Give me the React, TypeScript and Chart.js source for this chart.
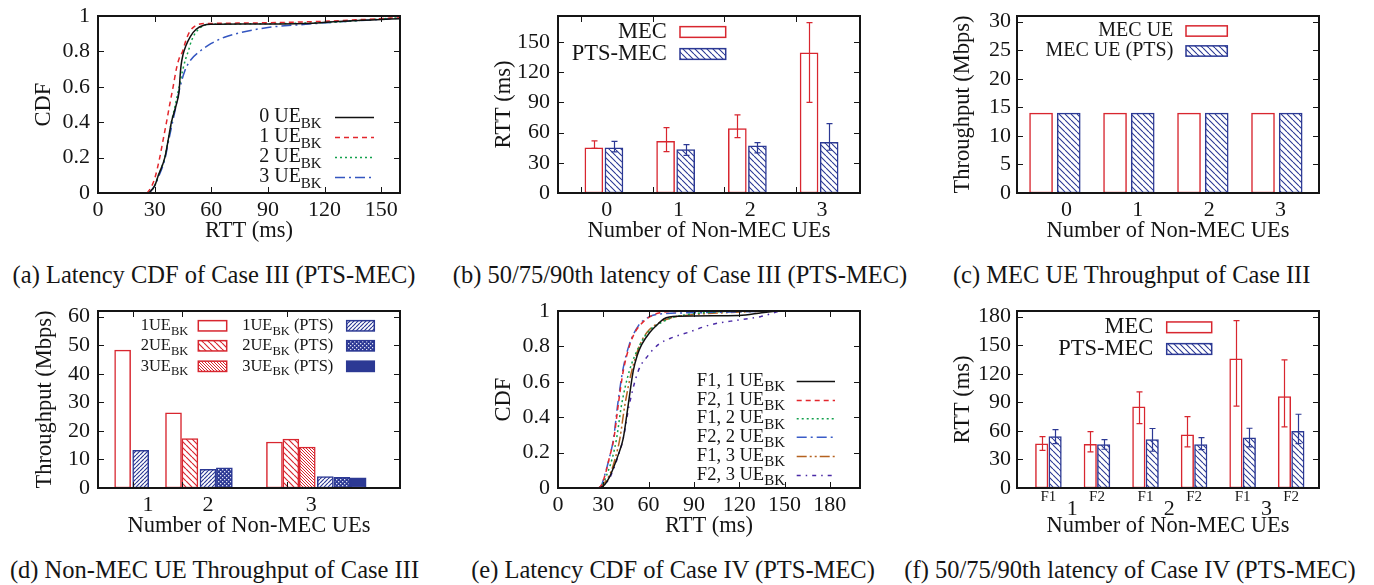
import React, { useEffect, useRef } from "react";
import { Chart, registerables } from "chart.js";

Chart.register(...registerables);

const SERIF = "'Liberation Serif', 'Times New Roman', Times, serif";
const INK = "#151515";
const RED = "#d8262f";
const BLUE = "#2c3994";
const TICK_FONT = 22;

// ---------------- (a) Latency CDF of Case III ----------------
const A_LABELS = ["0 UE_BK", "1 UE_BK", "2 UE_BK", "3 UE_BK"];
const A_RTT_0 = [27, 30, 32, 35.4, 37.2, 38.9, 41.5, 43, 43.5, 44, 45, 46.5, 49, 52, 56, 60, 80, 110, 125, 145, 160];
const A_CDF_0 = [0, 0.04, 0.1, 0.2, 0.3, 0.4, 0.5, 0.58, 0.66, 0.72, 0.78, 0.83, 0.885, 0.925, 0.948, 0.953, 0.955, 0.958, 0.968, 0.978, 0.985];
const A_RTT_1 = [26, 28, 30, 32.7, 34.5, 36.3, 38, 39.8, 41.5, 43, 44.8, 46.5, 48.5, 51, 54, 60, 90, 120, 140, 160];
const A_CDF_1 = [0, 0.03, 0.08, 0.2, 0.3, 0.4, 0.5, 0.6, 0.7, 0.76, 0.8, 0.86, 0.91, 0.94, 0.955, 0.958, 0.962, 0.97, 0.98, 0.99];
const A_RTT_2 = [27, 30, 32, 35.4, 37.2, 38.9, 41, 43, 45, 46.5, 47.8, 49.5, 52, 55, 58, 70, 100, 125, 145, 160];
const A_CDF_2 = [0, 0.04, 0.1, 0.2, 0.3, 0.4, 0.5, 0.6, 0.7, 0.76, 0.8, 0.86, 0.91, 0.94, 0.952, 0.955, 0.958, 0.965, 0.98, 0.99];
const A_RTT_3 = [27, 30, 32, 35.4, 37.5, 39.5, 41.5, 43.5, 46, 49, 53.9, 60, 67, 75, 90, 110, 125, 145, 160];
const A_CDF_3 = [0, 0.04, 0.09, 0.19, 0.3, 0.4, 0.5, 0.6, 0.69, 0.75, 0.8, 0.845, 0.88, 0.905, 0.935, 0.953, 0.965, 0.978, 0.988];
const A_XTICKS = [0, 30, 60, 90, 120, 150];
const CDF_YTICKS = [0, 0.2, 0.4, 0.6, 0.8, 1];

// ---------------- (b) 50/75/90th latency of Case III ----------------
const B_CATEGORIES = ["0", "1", "2", "3"];
const B_SERIES = ["MEC", "PTS-MEC"];
const B_MEC = [45, 51.4, 64, 139.3];
const B_MEC_LO = [44.5, 41.1, 55, 90.2];
const B_MEC_HI = [51.8, 65, 77.6, 169.5];
const B_PTS = [44.8, 43.1, 46.8, 50.4];
const B_PTS_LO = [40.8, 37.5, 39.8, 42.5];
const B_PTS_HI = [51.4, 48.1, 50.1, 69];
const B_YTICKS = [0, 30, 60, 90, 120, 150];

// ---------------- (c) MEC UE Throughput of Case III ----------------
const C_CATEGORIES = ["0", "1", "2", "3"];
const C_SERIES = ["MEC UE", "MEC UE (PTS)"];
const C_MEC = [14, 14, 14, 14];
const C_PTS = [14, 14, 14, 14];
const C_YTICKS = [0, 5, 10, 15, 20, 25, 30];

// ---------------- (d) Non-MEC UE Throughput of Case III ----------------
const D_CATEGORIES = ["1", "2", "3"];
const D_SERIES = ["1UE_BK", "2UE_BK", "3UE_BK", "1UE_BK (PTS)", "2UE_BK (PTS)", "3UE_BK (PTS)"];
const D_1UE = [48.3, 26.3, 16.1];
const D_2UE = [null, 17.3, 17.1];
const D_3UE = [null, null, 14.3];
const D_1UE_PTS = [13.2, 6.5, 4.0];
const D_2UE_PTS = [null, 7.1, 3.7];
const D_3UE_PTS = [null, null, 3.6];
const D_YTICKS = [0, 10, 20, 30, 40, 50, 60];

// ---------------- (e) Latency CDF of Case IV ----------------
const E_LABELS = ["F1, 1 UE_BK", "F2, 1 UE_BK", "F1, 2 UE_BK", "F2, 2 UE_BK", "F1, 3 UE_BK", "F2, 3 UE_BK"];
const E_RTT_F1_1 = [28, 31, 34, 37, 40, 43.2, 46.5, 49.8, 52.5, 55.4, 60.9, 65.4, 70, 80, 120, 135, 145];
const E_CDF_F1_1 = [0, 0.02, 0.06, 0.12, 0.19, 0.28, 0.47, 0.66, 0.75, 0.81, 0.88, 0.92, 0.955, 0.97, 0.975, 0.99, 1];
const E_RTT_F2_1 = [27, 29, 31.7, 34, 37, 39.9, 43.2, 47.6, 51, 54.3, 60.9, 67.5, 80, 100];
const E_CDF_F2_1 = [0, 0.02, 0.09, 0.17, 0.28, 0.47, 0.66, 0.81, 0.88, 0.92, 0.968, 0.99, 0.998, 1];
const E_RTT_F1_2 = [27, 29.5, 33, 36, 38.8, 42.1, 47.2, 54.3, 59.8, 65.4, 75, 90, 105, 120];
const E_CDF_F1_2 = [0, 0.02, 0.09, 0.17, 0.28, 0.47, 0.66, 0.81, 0.883, 0.92, 0.96, 0.985, 0.995, 1];
const E_RTT_F2_2 = [27, 29, 31.5, 34, 36.8, 39.5, 42.8, 47.2, 53.5, 60, 70, 90, 120, 150];
const E_CDF_F2_2 = [0, 0.02, 0.09, 0.17, 0.28, 0.47, 0.66, 0.81, 0.92, 0.965, 0.985, 0.99, 0.995, 1];
const E_RTT_F1_3 = [28, 30, 35, 38, 41, 44.3, 48.8, 54.3, 59, 64.2, 74.2, 90, 110, 140];
const E_CDF_F1_3 = [0, 0.02, 0.09, 0.17, 0.28, 0.47, 0.66, 0.81, 0.88, 0.92, 0.959, 0.98, 0.99, 1];
const E_RTT_F2_3 = [28, 31, 35, 39, 43.2, 47.2, 53.1, 59.8, 66.4, 74.2, 87.5, 100, 120, 134, 147];
const E_CDF_F2_3 = [0, 0.02, 0.07, 0.16, 0.28, 0.47, 0.66, 0.75, 0.81, 0.845, 0.883, 0.92, 0.95, 0.968, 1];
const E_XTICKS = [0, 30, 60, 90, 120, 150, 180];

// ---------------- (f) 50/75/90th latency of Case IV ----------------
const F_GROUPS = ["1", "2", "3"];
const F_FLOWS = ["F1", "F2", "F1", "F2", "F1", "F2"];
const F_SERIES = ["MEC", "PTS-MEC"];
const F_MEC = [46.3, 46, 85.3, 55.8, 135.8, 96.1];
const F_MEC_LO = [39.6, 37.9, 67.7, 43.2, 86, 64.2];
const F_MEC_HI = [54, 59.3, 101, 75.1, 175.8, 134.7];
const F_PTS = [54, 45.6, 50.9, 45.6, 52.6, 59.6];
const F_PTS_LO = [46.7, 40.7, 38.6, 40.4, 43.2, 46.7];
const F_PTS_HI = [61.4, 50.9, 62.5, 53, 62.8, 77.5];
const F_YTICKS = [0, 30, 60, 90, 120, 150, 180];

const X_TITLE_UES = "Number of Non-MEC UEs";

// ---------------- helpers ----------------
function hatch(color: string, step: number, dir: "back" | "fwd", lw = 1): CanvasPattern {
  const c = document.createElement("canvas");
  c.width = step;
  c.height = step;
  const g = c.getContext("2d")!;
  g.fillStyle = "#ffffff";
  g.fillRect(0, 0, step, step);
  g.strokeStyle = color;
  g.lineWidth = lw;
  g.beginPath();
  for (const o of [-step, 0, step]) {
    if (dir === "back") {
      g.moveTo(o, 0);
      g.lineTo(o + step, step);
    } else {
      g.moveTo(o, step);
      g.lineTo(o + step, 0);
    }
  }
  g.stroke();
  return g.createPattern(c, "repeat")!;
}

function dotted(color: string): CanvasPattern {
  const c = document.createElement("canvas");
  c.width = 4;
  c.height = 4;
  const g = c.getContext("2d")!;
  g.fillStyle = color;
  g.fillRect(0, 0, 4, 4);
  g.fillStyle = "#dfe3f5";
  g.fillRect(0, 0, 1.3, 1.3);
  g.fillRect(2, 2, 1.3, 1.3);
  return g.createPattern(c, "repeat")!;
}

type AxisSpec = {
  yW: number;
  xH: number;
  padTop: number;
  padRight: number;
  xMin: number;
  xMax: number;
  xTicks: number[];
  xLabels: string[];
  xTickFont?: number;
  xTickPad?: number;
  yMin: number;
  yMax: number;
  yTicks: number[];
  xTitle: string;
  yTitle: string;
  yTitlePad: number;
  yTickPad: number;
};

function baseOptions(p: AxisSpec): any {
  return {
    responsive: false,
    animation: false,
    devicePixelRatio: 1,
    events: [],
    layout: { padding: { top: p.padTop, right: p.padRight, left: 0, bottom: 0 }, autoPadding: false },
    plugins: { legend: { display: false }, tooltip: { enabled: false }, title: { display: false } },
    datasets: {
      bar: { grouped: false, borderSkipped: false, borderWidth: 1.5 },
      line: { pointRadius: 0, borderWidth: 1.5, cubicInterpolationMode: "monotone", fill: false },
    },
    scales: {
      x: {
        type: "linear",
        min: p.xMin,
        max: p.xMax,
        offset: false,
        grid: { display: false, drawTicks: false, tickLength: 0 },
        border: { display: false },
        ticks: {
          autoSkip: false,
          maxRotation: 0,
          minRotation: 0,
          padding: p.xTickPad ?? 4,
          color: INK,
          font: { family: SERIF, size: p.xTickFont ?? TICK_FONT },
          callback: (_v: any, i: number) => p.xLabels[i] ?? "",
        },
        afterBuildTicks: (s: any) => {
          s.ticks = p.xTicks.map((v) => ({ value: v }));
        },
        afterFit: (s: any) => {
          s.height = p.xH;
          s.paddingLeft = 0;
          s.paddingRight = 0;
        },
        title: {
          display: true,
          text: p.xTitle,
          color: INK,
          font: { family: SERIF, size: 22.5 },
          padding: { top: 0, bottom: 5 },
        },
      },
      y: {
        type: "linear",
        min: p.yMin,
        max: p.yMax,
        grid: { display: false, drawTicks: false, tickLength: 0 },
        border: { display: false },
        ticks: {
          autoSkip: false,
          padding: p.yTickPad,
          color: INK,
          font: { family: SERIF, size: TICK_FONT },
          callback: (v: any) => String(v),
        },
        afterBuildTicks: (s: any) => {
          s.ticks = p.yTicks.map((v) => ({ value: v }));
        },
        afterFit: (s: any) => {
          s.width = p.yW;
          s.paddingTop = 0;
          s.paddingBottom = 0;
        },
        title: {
          display: true,
          text: p.yTitle,
          color: INK,
          font: { family: SERIF, size: 22.5 },
          padding: { top: p.yTitlePad, bottom: 0 },
        },
      },
    },
  };
}

const framePlugin = (xMarks: number[] | null) => ({
  id: "gframe",
  afterDatasetsDraw(chart: any) {
    const { ctx, chartArea: a } = chart;
    const xs = chart.scales.x;
    const ys = chart.scales.y;
    const L = 6;
    ctx.save();
    ctx.strokeStyle = INK;
    ctx.lineWidth = 1;
    ctx.beginPath();
    ys.ticks.forEach((t: any) => {
      const py = Math.round(ys.getPixelForValue(t.value)) + 0.5;
      ctx.moveTo(a.left, py);
      ctx.lineTo(a.left + L, py);
      ctx.moveTo(a.right, py);
      ctx.lineTo(a.right - L, py);
    });
    const marks = xMarks ?? xs.ticks.map((t: any) => t.value);
    marks.forEach((v: number) => {
      const px = Math.round(xs.getPixelForValue(v)) + 0.5;
      ctx.moveTo(px, a.bottom);
      ctx.lineTo(px, a.bottom - L);
      ctx.moveTo(px, a.top);
      ctx.lineTo(px, a.top + L);
    });
    ctx.stroke();
    ctx.lineWidth = 2;
    ctx.strokeRect(a.left, a.top, a.right - a.left, a.bottom - a.top);
    ctx.restore();
  },
});

const errPlugin = {
  id: "gerr",
  afterDatasetsDraw(chart: any) {
    const ys = chart.scales.y;
    const ctx = chart.ctx;
    chart.data.datasets.forEach((ds: any, i: number) => {
      if (!ds.errLo) return;
      const meta = chart.getDatasetMeta(i);
      ctx.save();
      ctx.strokeStyle = ds.borderColor;
      ctx.lineWidth = 1.2;
      ctx.beginPath();
      meta.data.forEach((el: any, j: number) => {
        const x = Math.round(el.x) + 0.5;
        const y0 = ys.getPixelForValue(ds.errLo[j]);
        const y1 = ys.getPixelForValue(ds.errHi[j]);
        ctx.moveTo(x, y0);
        ctx.lineTo(x, y1);
        ctx.moveTo(x - 3, y0);
        ctx.lineTo(x + 3, y0);
        ctx.moveTo(x - 3, y1);
        ctx.lineTo(x + 3, y1);
      });
      ctx.stroke();
      ctx.restore();
    });
  },
};

type LItem = { ds: number; tx: number; cy: number; s0: number; s1: number };

const legendPlugin = (items: LItem[], size: number, subSize: number, boxH: number) => ({
  id: "glegend",
  afterDatasetsDraw(chart: any) {
    const ctx = chart.ctx;
    ctx.save();
    ctx.textBaseline = "middle";
    ctx.textAlign = "left";
    items.forEach((it) => {
      const ds = chart.data.datasets[it.ds];
      const parts = String(ds.label).split(/_([A-Za-z0-9]+)/);
      const fonts = parts.map((_, k) => `${k % 2 ? subSize : size}px ${SERIF}`);
      const widths = parts.map((t, k) => {
        ctx.font = fonts[k];
        return ctx.measureText(t).width;
      });
      let x = it.tx - widths.reduce((a, b) => a + b, 0);
      ctx.fillStyle = INK;
      parts.forEach((t, k) => {
        ctx.font = fonts[k];
        ctx.fillText(t, x, it.cy + (k % 2 ? size * 0.34 : 0));
        x += widths[k];
      });
      const isLine = chart.getDatasetMeta(it.ds).type === "line";
      if (isLine) {
        ctx.save();
        ctx.strokeStyle = ds.borderColor;
        ctx.lineWidth = 1.5;
        ctx.setLineDash(ds.borderDash || []);
        ctx.beginPath();
        ctx.moveTo(it.s0, it.cy + 0.5);
        ctx.lineTo(it.s1, it.cy + 0.5);
        ctx.stroke();
        ctx.restore();
      } else {
        const y = it.cy - boxH / 2;
        ctx.fillStyle = ds.backgroundColor;
        ctx.fillRect(it.s0, y, it.s1 - it.s0, boxH);
        ctx.strokeStyle = ds.borderColor;
        ctx.lineWidth = 1.5;
        ctx.strokeRect(it.s0, y, it.s1 - it.s0, boxH);
      }
    });
    ctx.restore();
  },
});

const groupLabelPlugin = (values: number[], labels: string[], dy: number, size: number) => ({
  id: "ggroups",
  afterDraw(chart: any) {
    const ctx = chart.ctx;
    const xs = chart.scales.x;
    ctx.save();
    ctx.font = `${size}px ${SERIF}`;
    ctx.fillStyle = INK;
    ctx.textAlign = "center";
    ctx.textBaseline = "middle";
    values.forEach((v, i) => ctx.fillText(labels[i], xs.getPixelForValue(v), chart.chartArea.bottom + dy));
    ctx.restore();
  },
});

function pts(xs: number[], ys: number[]) {
  return xs.map((x, i) => ({ x, y: ys[i] }));
}

// ---------------- chart builders ----------------
function makeA(): any {
  const colors = ["#111111", "#e3262c", "#12a04c", "#3456c0"];
  const dashes = [[], [5, 4], [2, 3], [10, 4, 2, 4]];
  const xs = [A_RTT_0, A_RTT_1, A_RTT_2, A_RTT_3];
  const ys = [A_CDF_0, A_CDF_1, A_CDF_2, A_CDF_3];
  const datasets = A_LABELS.map((label, k) => ({
    label,
    data: pts(xs[k], ys[k]),
    borderColor: colors[k],
    borderDash: dashes[k],
  }));
  const rows = [117, 137, 157, 177];
  return {
    type: "line",
    data: { datasets },
    options: baseOptions({
      yW: 98, xH: 57, padTop: 16, padRight: 20,
      xMin: 0, xMax: 160, xTicks: A_XTICKS, xLabels: A_XTICKS.map(String),
      yMin: 0, yMax: 1, yTicks: CDF_YTICKS,
      xTitle: "RTT (ms)", yTitle: "CDF", yTitlePad: 31, yTickPad: 8,
    }),
    plugins: [
      framePlugin(null),
      legendPlugin(rows.map((cy, k) => ({ ds: k, tx: 321.7, cy, s0: 335, s1: 374 })), 20, 15, 0),
    ],
  };
}

function makeB(): any {
  const MEC_SHIFT = -0.18;
  const PTS_SHIFT = 0.1;
  const datasets = [
    {
      label: B_SERIES[0],
      data: B_MEC.map((v, i) => ({ x: i + MEC_SHIFT, y: v })),
      backgroundColor: "#ffffff",
      borderColor: RED,
      errLo: B_MEC_LO,
      errHi: B_MEC_HI,
    },
    {
      label: B_SERIES[1],
      data: B_PTS.map((v, i) => ({ x: i + PTS_SHIFT, y: v })),
      backgroundColor: hatch(BLUE, 6, "back", 1.1),
      borderColor: BLUE,
      errLo: B_PTS_LO,
      errHi: B_PTS_HI,
    },
  ];
  const ticks = B_CATEGORIES.map((_, i) => i);
  const opts = baseOptions({
    yW: 98, xH: 57, padTop: 16, padRight: 20,
    xMin: -0.68, xMax: 3.53, xTicks: ticks, xLabels: B_CATEGORIES,
    yMin: 0, yMax: 176, yTicks: B_YTICKS,
    xTitle: X_TITLE_UES, yTitle: "RTT (ms)", yTitlePad: 31, yTickPad: 8,
  });
  opts.datasets.bar.barThickness = 18;
  return {
    type: "bar",
    data: { datasets },
    options: opts,
    plugins: [
      errPlugin,
      framePlugin(ticks.map((t) => t - 0.36)),
      legendPlugin(
        [
          { ds: 0, tx: 206.7, cy: 32, s0: 220, s1: 265.7 },
          { ds: 1, tx: 206.7, cy: 54, s0: 220, s1: 265.7 },
        ],
        22.5, 16, 10.7
      ),
    ],
  };
}

function makeC(): any {
  const PITCH = 1.0365;
  const MEC_POS = -0.356;
  const PTS_POS = 0.032;
  const datasets = [
    {
      label: C_SERIES[0],
      data: C_MEC.map((v, i) => ({ x: MEC_POS + i * PITCH, y: v })),
      backgroundColor: "#ffffff",
      borderColor: RED,
    },
    {
      label: C_SERIES[1],
      data: C_PTS.map((v, i) => ({ x: PTS_POS + i * PITCH, y: v })),
      backgroundColor: hatch(BLUE, 6, "back", 1.1),
      borderColor: BLUE,
    },
  ];
  const ticks = C_CATEGORIES.map((_, i) => i);
  const opts = baseOptions({
    yW: 102, xH: 57, padTop: 16, padRight: 26,
    xMin: -0.693, xMax: 3.538, xTicks: ticks, xLabels: C_CATEGORIES,
    yMin: 0, yMax: 31, yTicks: C_YTICKS,
    xTitle: X_TITLE_UES, yTitle: "Throughput (Mbps)", yTitlePad: 35, yTickPad: 6,
  });
  opts.datasets.bar.barThickness = 23;
  return {
    type: "bar",
    data: { datasets },
    options: opts,
    plugins: [
      framePlugin([]),
      legendPlugin(
        [
          { ds: 0, tx: 258.3, cy: 31, s0: 271, s1: 312.3 },
          { ds: 1, tx: 258.3, cy: 51, s0: 271, s1: 312.3 },
        ],
        20, 15, 10.3
      ),
    ],
  };
}

function makeD(): any {
  const START = [1.5, 4.6, 10.75];
  const GAP = 0.1;
  const place = (vals: (number | null)[], s: number, isPts: boolean) =>
    vals
      .map((v, c) => (v == null ? null : { x: START[c] + (isPts ? c + 1 + GAP : 0) + s, y: v }))
      .filter((p) => p !== null);
  const mec = [D_1UE, D_2UE, D_3UE];
  const pts2 = [D_1UE_PTS, D_2UE_PTS, D_3UE_PTS];
  const mecFill = ["#ffffff", hatch(RED, 6, "back", 1.2), hatch(RED, 3, "back", 1)];
  const ptsFill = [hatch(BLUE, 4, "fwd", 1.2), dotted(BLUE), BLUE];
  const datasets = [
    ...mec.map((vals, s) => ({
      label: D_SERIES[s],
      data: place(vals, s, false),
      backgroundColor: mecFill[s],
      borderColor: RED,
    })),
    ...pts2.map((vals, s) => ({
      label: D_SERIES[3 + s],
      data: place(vals, s, true),
      backgroundColor: ptsFill[s],
      borderColor: BLUE,
    })),
  ];
  const LABEL_POS = [3.05, 6.7, 13.0];
  const opts = baseOptions({
    yW: 98, xH: 57, padTop: 16, padRight: 20,
    xMin: 0, xMax: 18.4, xTicks: LABEL_POS, xLabels: D_CATEGORIES,
    yMin: 0, yMax: 62, yTicks: D_YTICKS,
    xTitle: X_TITLE_UES, yTitle: "Throughput (Mbps)", yTitlePad: 31.5, yTickPad: 8,
  });
  opts.datasets.bar.barThickness = 16;
  const rows = [30.8, 50.8, 71.3];
  const items: LItem[] = [
    ...rows.map((cy, k) => ({ ds: k, tx: 188.3, cy, s0: 198.3, s1: 226.7 })),
    ...rows.map((cy, k) => ({ ds: 3 + k, tx: 333.3, cy, s0: 346.7, s1: 374.3 })),
  ];
  return {
    type: "bar",
    data: { datasets },
    options: opts,
    plugins: [framePlugin([2.13, 5.09, 11.49]), legendPlugin(items, 16.5, 12.5, 10.3)],
  };
}

function makeE(): any {
  const colors = ["#111111", "#e3262c", "#12a04c", "#3a5cc8", "#b5621f", "#4a2aa6"];
  const dashes = [[], [5, 4], [2, 3], [10, 4, 2, 4], [10, 3, 2, 3, 2, 3], [4, 5, 1.5, 5]];
  const xs = [E_RTT_F1_1, E_RTT_F2_1, E_RTT_F1_2, E_RTT_F2_2, E_RTT_F1_3, E_RTT_F2_3];
  const ys = [E_CDF_F1_1, E_CDF_F2_1, E_CDF_F1_2, E_CDF_F2_2, E_CDF_F1_3, E_CDF_F2_3];
  const datasets = E_LABELS.map((label, k) => ({
    label,
    data: pts(xs[k], ys[k]),
    borderColor: colors[k],
    borderDash: dashes[k],
  }));
  const rows = [86, 105, 123.3, 141.7, 161, 180];
  return {
    type: "line",
    data: { datasets },
    options: baseOptions({
      yW: 98, xH: 57, padTop: 16, padRight: 20,
      xMin: 0, xMax: 200, xTicks: E_XTICKS, xLabels: E_XTICKS.map(String),
      yMin: 0, yMax: 1, yTicks: CDF_YTICKS,
      xTitle: "RTT (ms)", yTitle: "CDF", yTitlePad: 31, yTickPad: 8,
    }),
    plugins: [
      framePlugin(null),
      legendPlugin(rows.map((cy, k) => ({ ds: k, tx: 325, cy, s0: 336.7, s1: 375 })), 18.5, 15, 0),
    ],
  };
}

function makeF(): any {
  const SHIFT = 0.138;
  const datasets = [
    {
      label: F_SERIES[0],
      data: F_MEC.map((v, i) => ({ x: i - SHIFT, y: v })),
      backgroundColor: "#ffffff",
      borderColor: RED,
      errLo: F_MEC_LO,
      errHi: F_MEC_HI,
    },
    {
      label: F_SERIES[1],
      data: F_PTS.map((v, i) => ({ x: i + SHIFT, y: v })),
      backgroundColor: hatch(BLUE, 6, "back", 1.1),
      borderColor: BLUE,
      errLo: F_PTS_LO,
      errHi: F_PTS_HI,
    },
  ];
  const ticks = F_FLOWS.map((_, i) => i);
  const opts = baseOptions({
    yW: 102, xH: 57, padTop: 16, padRight: 26,
    xMin: -0.647, xMax: 5.573, xTicks: ticks, xLabels: F_FLOWS, xTickFont: 15, xTickPad: 0,
    yMin: 0, yMax: 186, yTicks: F_YTICKS,
    xTitle: X_TITLE_UES, yTitle: "RTT (ms)", yTitlePad: 35, yTickPad: 6,
  });
  opts.datasets.bar.barThickness = 12.5;
  const groupPos = F_GROUPS.map((_, g) => 2 * g + 0.49);
  return {
    type: "bar",
    data: { datasets },
    options: opts,
    plugins: [
      errPlugin,
      framePlugin([]),
      groupLabelPlugin(groupPos, F_GROUPS, 21, TICK_FONT),
      legendPlugin(
        [
          { ds: 0, tx: 238.3, cy: 32.3, s0: 251.7, s1: 296.7 },
          { ds: 1, tx: 238.3, cy: 54, s0: 251.7, s1: 296.7 },
        ],
        22.5, 16, 10.7
      ),
    ],
  };
}

function ChartBox(props: { left: number; top: number; width: number; height: number; make: () => any }) {
  const ref = useRef<HTMLCanvasElement>(null);
  useEffect(() => {
    const chart = new Chart(ref.current as HTMLCanvasElement, props.make());
    return () => chart.destroy();
  }, []);
  return (
    <div style={{ position: "absolute", left: props.left, top: props.top, width: props.width, height: props.height }}>
      <canvas
        ref={ref}
        width={props.width}
        height={props.height}
        style={{ display: "block", width: props.width, height: props.height }}
      />
    </div>
  );
}

function Caption(props: { cx: number; cy: number; text: string }) {
  return (
    <div
      style={{
        position: "absolute",
        left: props.cx - 300,
        top: props.cy - 14,
        width: 600,
        height: 28,
        lineHeight: "28px",
        textAlign: "center",
        fontFamily: SERIF,
        fontSize: 24.5,
        color: INK,
        whiteSpace: "nowrap",
      }}
    >
      {props.text}
    </div>
  );
}

export default function App() {
  return (
    <div
      style={{
        position: "absolute",
        left: 0,
        top: 0,
        width: 1374,
        height: 585,
        overflow: "hidden",
        background: "#ffffff",
      }}
    >
      <ChartBox left={0} top={0} width={420} height={250} make={makeA} />
      <ChartBox left={460} top={0} width={420} height={250} make={makeB} />
      <ChartBox left={915} top={0} width={430} height={250} make={makeC} />
      <ChartBox left={0} top={295} width={420} height={250} make={makeD} />
      <ChartBox left={460} top={295} width={420} height={250} make={makeE} />
      <ChartBox left={915} top={295} width={430} height={250} make={makeF} />
      <Caption cx={214} cy={275} text="(a) Latency CDF of Case III (PTS-MEC)" />
      <Caption cx={680} cy={275} text="(b) 50/75/90th latency of Case III (PTS-MEC)" />
      <Caption cx={1131.7} cy={275} text="(c) MEC UE Throughput of Case III" />
      <Caption cx={214.5} cy={570} text="(d) Non-MEC UE Throughput of Case III" />
      <Caption cx={673} cy={570} text="(e) Latency CDF of Case IV (PTS-MEC)" />
      <Caption cx={1130} cy={570} text="(f) 50/75/90th latency of Case IV (PTS-MEC)" />
    </div>
  );
}
